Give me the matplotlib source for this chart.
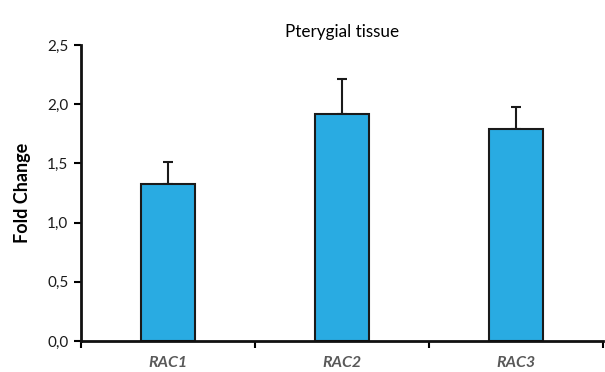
import matplotlib
matplotlib.use("Agg")
import matplotlib.pyplot as plt
from matplotlib.ticker import FixedLocator, NullFormatter

categories = ["RAC1", "RAC2", "RAC3"]
values = [1.33, 1.92, 1.79]
errors = [0.18, 0.29, 0.19]
yticks = [0.0, 0.5, 1.0, 1.5, 2.0, 2.5]
ytick_labels = ["0,0", "0,5", "1,0", "1,5", "2,0", "2,5"]

plt.rcParams['font.family'] = ['Lato', 'DejaVu Sans']

fig = plt.figure(figsize=(6.05, 3.72), dpi=100)
ax = fig.add_axes([81/605, 31/372, 522/605, 296/372])

x = list(range(len(categories)))
ax.bar(x, values, width=0.31, color="#29ABE2", edgecolor="#1a1a1a", linewidth=1.5, zorder=2)
ax.errorbar(x, values, yerr=[[0]*len(errors), errors], fmt="none", ecolor="#1a1a1a",
            elinewidth=1.5, capsize=3.5, capthick=1.5, zorder=1)

ax.set_xlim(-0.5, 2.5)
ax.set_ylim(0, 2.5)
ax.set_yticks(yticks)
ax.set_yticklabels(ytick_labels, fontsize=11, color="#1a1a1a")

ax.xaxis.set_major_locator(FixedLocator([-0.5, 0.5, 1.5, 2.5]))
ax.xaxis.set_major_formatter(NullFormatter())
ax.xaxis.set_minor_locator(FixedLocator(x))
ax.set_xticks(x, minor=True)
ax.set_xticklabels(categories, minor=True, fontsize=11.5, fontweight="bold", fontstyle="italic", color="#595959")
ax.tick_params(axis="x", which="minor", length=0, pad=11)
ax.tick_params(axis="x", which="major", direction="out", length=5, width=1.5)
ax.tick_params(axis="y", direction="out", length=5, width=1.5, pad=4)

for s in ["top", "right"]:
    ax.spines[s].set_visible(False)
for s in ["left", "bottom"]:
    ax.spines[s].set_linewidth(2)
    ax.spines[s].set_color("#111111")

ax.set_ylabel("Fold Change", fontsize=13, fontweight="bold", labelpad=12)
ax.set_title("Pterygial tissue", fontsize=12.3, pad=6)

fig.savefig("out.png", dpi=100)
